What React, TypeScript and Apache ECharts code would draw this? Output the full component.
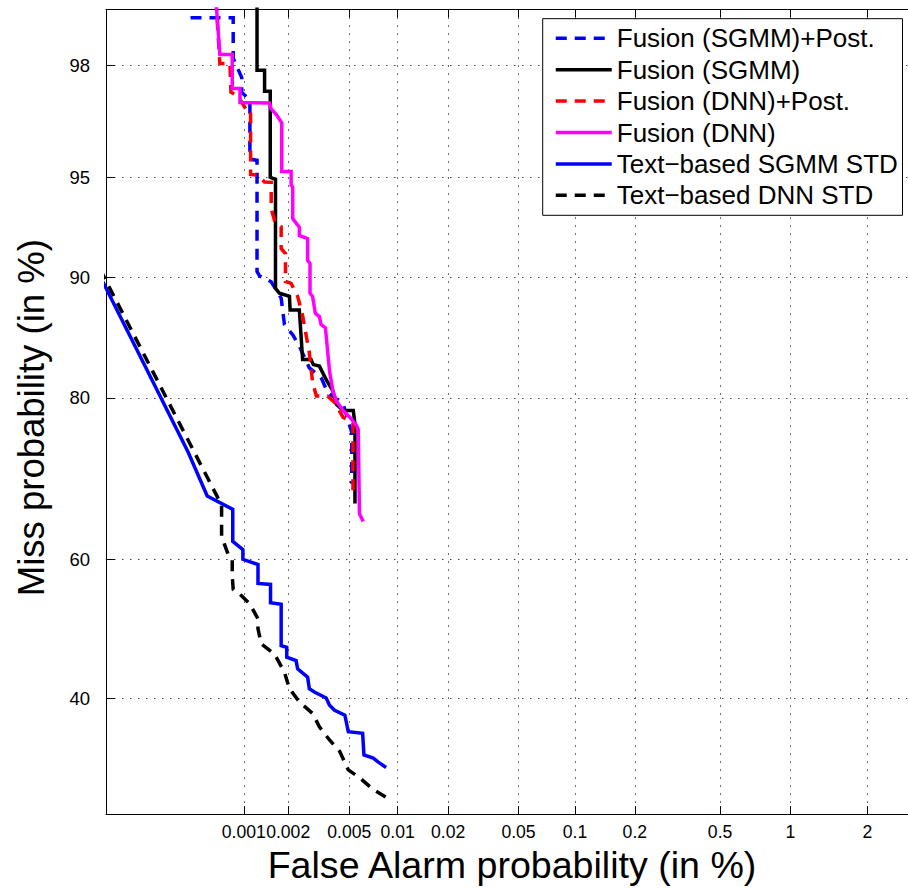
import React, { useEffect, useRef } from "react";
import * as echarts from "echarts";

// Tick labels (percent)
const FA_TICKS = [0.001, 0.002, 0.005, 0.01, 0.02, 0.05, 0.1, 0.2, 0.5, 1, 2];
const MISS_TICKS = [40, 60, 80, 90, 95, 98];
// Visible axis ranges (percent)
const FA_RANGE = [0.0001, 2.81];
const MISS_RANGE = [25.0, 98.8];

// Fusion (SGMM)+Post.
const fusionSgmmPostFA = [0.000422, 0.000845, 0.000845, 0.000968, 0.000968, 0.001102, 0.001102, 0.001233, 0.001233, 0.001285, 0.001539, 0.001796, 0.001889, 0.002144, 0.002373, 0.00276, 0.003294, 0.00364, 0.004566, 0.005177, 0.005177];
const fusionSgmmPostMiss = [98.70, 98.70, 98.12, 97.77, 97.47, 97.30, 95.65, 95.61, 90.36, 90.07, 89.70, 88.59, 86.62, 85.81, 84.84, 82.92, 82.00, 80.53, 79.35, 76.31, 70.14];

// Fusion (SGMM)
const fusionSgmmFA = [0.001233, 0.001233, 0.001388, 0.001388, 0.001516, 0.001516, 0.001645, 0.001645, 0.001749, 0.00204, 0.002061, 0.002373, 0.002494, 0.002832, 0.002932, 0.003211, 0.003585, 0.003926, 0.004133, 0.004566, 0.005297, 0.005429, 0.005429];
const fusionSgmmMiss = [98.90, 97.91, 97.91, 97.49, 97.49, 95.00, 94.93, 89.26, 88.93, 88.71, 87.74, 87.74, 83.68, 83.68, 83.22, 83.08, 81.70, 80.70, 79.35, 78.68, 78.68, 77.22, 67.62];

// Fusion (DNN)+Post.
const fusionDnnPostFA = [0.000640, 0.000682, 0.000802, 0.000815, 0.000916, 0.001047, 0.001114, 0.001114, 0.001246, 0.001388, 0.001539, 0.001539, 0.001645, 0.001796, 0.001796, 0.001919, 0.001919, 0.002093, 0.002312, 0.002483, 0.00276, 0.002901, 0.003068, 0.003623, 0.004028, 0.004566, 0.005274, 0.005274];
const fusionDnnPostMiss = [98.90, 98.03, 98.03, 97.47, 97.38, 97.05, 97.05, 95.11, 95.08, 94.82, 94.81, 93.70, 93.00, 92.85, 91.71, 91.42, 89.72, 89.59, 88.71, 87.42, 84.28, 81.54, 80.20, 80.20, 79.52, 77.95, 77.40, 68.50];

// Fusion (DNN)
const fusionDnnFA = [0.000640, 0.000682, 0.000832, 0.000832, 0.000942, 0.000942, 0.001499, 0.001539, 0.001662, 0.001812, 0.001812, 0.002093, 0.002093, 0.002144, 0.002144, 0.002373, 0.002373, 0.00269, 0.00269, 0.002789, 0.002789, 0.002901, 0.003022, 0.003211, 0.003294, 0.003515, 0.003735, 0.003926, 0.004133, 0.004566, 0.005051, 0.005563, 0.005694, 0.005794, 0.00612];
const fusionDnnMiss = [98.90, 98.18, 98.18, 97.55, 97.55, 97.24, 97.23, 97.09, 96.96, 96.74, 95.22, 95.22, 94.70, 94.63, 93.25, 92.83, 92.41, 92.24, 91.03, 90.84, 88.93, 88.71, 87.49, 87.24, 86.62, 86.36, 82.62, 80.70, 79.69, 78.68, 77.95, 77.05, 76.64, 66.27, 65.22];

// Text-based SGMM STD
const textSgmmFA = [0.0000901, 0.000406, 0.000555, 0.000839, 0.000839, 0.000986, 0.000986, 0.001252, 0.001252, 0.001523, 0.001523, 0.001796, 0.001796, 0.001957, 0.001957, 0.002257, 0.002312, 0.00269, 0.00276, 0.002977, 0.003553, 0.003735, 0.004028, 0.004685, 0.004925, 0.006068, 0.006183, 0.007071, 0.0076, 0.008495];
const textSgmmMiss = [90.05, 74.01, 68.59, 66.84, 62.50, 61.36, 60.01, 59.27, 56.58, 56.44, 53.81, 53.58, 47.57, 47.33, 45.89, 45.41, 44.23, 43.03, 41.39, 40.91, 40.07, 39.05, 38.35, 37.67, 35.41, 35.19, 32.32, 31.89, 31.37, 30.68];

// Text-based DNN STD
const textDnnFA = [0.0000901, 0.000701, 0.000701, 0.00078, 0.000832, 0.000832, 0.000845, 0.000942, 0.001102, 0.001252, 0.001252, 0.00132, 0.001619, 0.001889, 0.00204, 0.002373, 0.002901, 0.003211, 0.003735, 0.004344, 0.004925, 0.005836, 0.007071, 0.00858];
const textDnnMiss = [90.49, 67.41, 63.18, 60.67, 60.01, 57.63, 55.73, 55.01, 53.62, 51.46, 50.02, 47.81, 46.37, 43.74, 41.39, 39.52, 37.90, 36.08, 34.29, 32.76, 30.39, 29.36, 27.92, 26.92];

const FONT = '"Liberation Sans", Arial, Helvetica, sans-serif';

function probit(p: number): number {
  const a = [-3.969683028665376e1, 2.209460984245205e2, -2.759285104469687e2, 1.38357751867269e2, -3.066479806614716e1, 2.506628277459239];
  const b = [-5.447609879822406e1, 1.615858368580409e2, -1.556989798598866e2, 6.680131188771972e1, -1.328068155288572e1];
  const c = [-7.784894002430293e-3, -3.223964580411365e-1, -2.400758277161838, -2.549732539343734, 4.374664141464968, 2.938163982698783];
  const d = [7.784695709041462e-3, 3.224671290700398e-1, 2.445134137142996, 3.754408661907416];
  const pl = 0.02425;
  const ph = 1 - pl;
  if (p < pl) {
    const q = Math.sqrt(-2 * Math.log(p));
    return (((((c[0] * q + c[1]) * q + c[2]) * q + c[3]) * q + c[4]) * q + c[5]) / ((((d[0] * q + d[1]) * q + d[2]) * q + d[3]) * q + 1);
  }
  if (p <= ph) {
    const q = p - 0.5;
    const r = q * q;
    return ((((((a[0] * r + a[1]) * r + a[2]) * r + a[3]) * r + a[4]) * r + a[5]) * q) / (((((b[0] * r + b[1]) * r + b[2]) * r + b[3]) * r + b[4]) * r + 1);
  }
  const q = Math.sqrt(-2 * Math.log(1 - p));
  return -(((((c[0] * q + c[1]) * q + c[2]) * q + c[3]) * q + c[4]) * q + c[5]) / ((((d[0] * q + d[1]) * q + d[2]) * q + d[3]) * q + 1);
}

export default function App() {
  const ref = useRef<HTMLDivElement>(null);
  useEffect(() => {
    const chart = echarts.init(ref.current as HTMLDivElement, null, { renderer: "svg" });
    const xTickVals = FA_TICKS.map((t) => probit(t / 100));
    const yTickVals = MISS_TICKS.map((t) => probit(t / 100));
    // label order: put far-apart labels first/last so crowded neighbours are not dropped
    const xLabelOrder = [FA_TICKS.length - 3, ...FA_TICKS.map((_, i) => i).filter((i) => i !== FA_TICKS.length - 3)];
    const xLabelVals = xLabelOrder.map((i) => xTickVals[i]);
    const labeler = (vals: number[], ticks: number[]) => (v: number) => {
      let bi = 0;
      let bd = Infinity;
      vals.forEach((tv, i) => {
        const dd = Math.abs(tv - v);
        if (dd < bd) { bd = dd; bi = i; }
      });
      return String(ticks[bi]);
    };
    const xMin = probit(FA_RANGE[0] / 100);
    const xMax = probit(FA_RANGE[1] / 100);
    const yMin = probit(MISS_RANGE[0] / 100);
    const yMax = probit(MISS_RANGE[1] / 100);

    const mk = (name: string, fa: number[], miss: number[], color: string, dashed: boolean) => ({
      name,
      type: "line",
      xAxisIndex: 0,
      yAxisIndex: 0,
      symbol: "none",
      showSymbol: false,
      clip: true,
      data: fa.map((f, i) => [probit(f / 100), probit(miss[i] / 100)]),
      lineStyle: { color, width: 3.5, type: dashed ? [11, 8] : "solid", join: "miter" },
      itemStyle: { color },
      emphasis: { disabled: true },
    });

    const tickLine = { color: "#000", width: 1 };
    const gridLine = { color: "#444", width: 1, type: [1.5, 6.5] };

    chart.setOption({
      animation: false,
      backgroundColor: "#fff",
      textStyle: { fontFamily: FONT },
      grid: { left: 106, right: 0, top: 9.3, bottom: 69.7, containLabel: false },
      legend: {
        orient: "vertical",
        left: 542.7,
        top: 18.7,
        padding: [6.6, 4.7, 7, 11.3],
        itemGap: 5.4,
        itemWidth: 56,
        itemHeight: 2,
        selectedMode: false,
        backgroundColor: "#fff",
        borderColor: "#000",
        borderWidth: 1,
        borderRadius: 0,
        itemStyle: { opacity: 0 },
        lineStyle: { width: 3.5 },
        textStyle: { fontFamily: FONT, fontSize: 26, lineHeight: 26, color: "#000" },
        data: [
          "Fusion (SGMM)+Post.",
          "Fusion (SGMM)",
          "Fusion (DNN)+Post.",
          "Fusion (DNN)",
          "Text−based SGMM STD",
          "Text−based DNN STD",
        ],
      },
      xAxis: [
        {
          type: "value",
          position: "bottom",
          min: xMin,
          max: xMax,
          name: "False Alarm probability (in %)",
          nameLocation: "middle",
          nameGap: 28,
          nameTextStyle: { fontFamily: FONT, fontSize: 37.6, color: "#000", padding: [0, 0, 0, 10] },
          axisLine: { show: true, onZero: false, lineStyle: tickLine },
          axisTick: { show: true, inside: true, length: 8, customValues: xTickVals, lineStyle: tickLine },
          axisLabel: {
            show: true,
            customValues: xLabelVals,
            formatter: labeler(xTickVals, FA_TICKS),
            fontFamily: FONT,
            fontSize: 17.6,
            color: "#000",
            margin: 9,
            hideOverlap: false,
            showMinLabel: true,
            showMaxLabel: true,
          },
          splitLine: { show: true, lineStyle: gridLine },
        },
        {
          type: "value",
          position: "top",
          min: xMin,
          max: xMax,
          axisLine: { show: true, onZero: false, lineStyle: tickLine },
          axisTick: { show: true, inside: true, length: 8, customValues: xTickVals, lineStyle: tickLine },
          axisLabel: { show: false },
          splitLine: { show: false },
        },
      ],
      yAxis: [
        {
          type: "value",
          position: "left",
          min: yMin,
          max: yMax,
          name: "Miss probability (in %)",
          nameLocation: "middle",
          nameGap: 56,
          nameRotate: 90,
          nameTextStyle: { fontFamily: FONT, fontSize: 36.5, color: "#000", padding: [0, 12, 0, 0] },
          axisLine: { show: true, onZero: false, lineStyle: tickLine },
          axisTick: { show: true, inside: true, length: 9, customValues: yTickVals, lineStyle: tickLine },
          axisLabel: {
            show: true,
            customValues: yTickVals,
            formatter: labeler(yTickVals, MISS_TICKS),
            fontFamily: FONT,
            fontSize: 18.5,
            color: "#000",
            margin: 16,
          },
          splitLine: { show: true, lineStyle: gridLine },
        },
      ],
      series: [
        mk("Fusion (SGMM)+Post.", fusionSgmmPostFA, fusionSgmmPostMiss, "#0000ff", true),
        mk("Fusion (SGMM)", fusionSgmmFA, fusionSgmmMiss, "#000000", false),
        mk("Fusion (DNN)+Post.", fusionDnnPostFA, fusionDnnPostMiss, "#ff0000", true),
        mk("Fusion (DNN)", fusionDnnFA, fusionDnnMiss, "#ff00ff", false),
        mk("Text−based SGMM STD", textSgmmFA, textSgmmMiss, "#0000ff", false),
        mk("Text−based DNN STD", textDnnFA, textDnnMiss, "#000000", true),
      ],
    });
    return () => chart.dispose();
  }, []);
  return (
    <div
      ref={ref}
      style={{ position: "absolute", left: 0, top: 0, width: 908, height: 889, background: "#fff" }}
    />
  );
}
